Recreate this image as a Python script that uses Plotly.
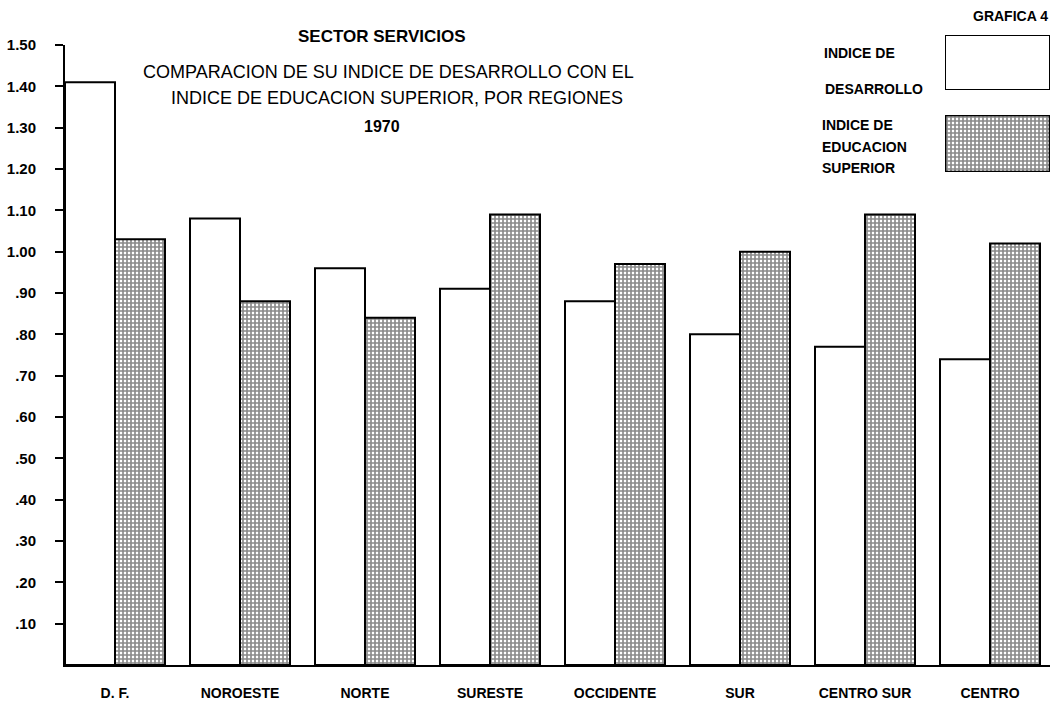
import plotly.graph_objects as go

regiones = ["D. F.", "NOROESTE", "NORTE", "SURESTE", "OCCIDENTE", "SUR", "CENTRO SUR", "CENTRO"]
indice_desarrollo = [1.41, 1.08, 0.96, 0.91, 0.88, 0.80, 0.77, 0.74]
indice_educacion = [1.03, 0.88, 0.84, 1.09, 0.97, 1.00, 1.09, 1.02]
tick_vals = [0.1, 0.2, 0.3, 0.4, 0.5, 0.6, 0.7, 0.8, 0.9, 1.0, 1.1, 1.2, 1.3, 1.4, 1.5]
tick_text = [".10", ".20", ".30", ".40", ".50", ".60", ".70", ".80", ".90",
             "1.00", "1.10", "1.20", "1.30", "1.40", "1.50"]

FONT = "Liberation Sans, Arial, sans-serif"
pattern = dict(shape="+", size=4, solidity=0.65, fgcolor="#111111", bgcolor="white", fillmode="overlay")

fig = go.Figure()
fig.add_trace(go.Bar(x=regiones, y=indice_desarrollo, name="INDICE DE DESARROLLO",
                     marker=dict(color="white", line=dict(color="black", width=2))))
fig.add_trace(go.Bar(x=regiones, y=indice_educacion, name="INDICE DE EDUCACION SUPERIOR",
                     marker=dict(color="white", pattern=pattern, line=dict(color="black", width=2))))

# legend swatches on small inset axes
fig.add_trace(go.Bar(x=[0], y=[1], width=[1], xaxis="x2", yaxis="y2", showlegend=False,
                     marker=dict(color="white", line=dict(color="black", width=2))))
fig.add_trace(go.Bar(x=[0], y=[1], width=[1], xaxis="x3", yaxis="y3", showlegend=False,
                     marker=dict(color="white", pattern=pattern, line=dict(color="black", width=2.5))))

plot_top, plot_bot = 30, 665
H = plot_bot - plot_top
def py(p):
    return (plot_bot - p) / H

fig.update_layout(
    width=1054, height=705,
    margin=dict(l=65, r=4, t=plot_top, b=705 - plot_bot),
    paper_bgcolor="white", plot_bgcolor="white",
    showlegend=False,
    barmode="group", bargap=0.2, bargroupgap=0,
    font=dict(family=FONT, color="black"),
    xaxis=dict(range=[-0.4, 7.48], showgrid=False, showline=True, linecolor="black", linewidth=2,
               ticks="", tickfont=dict(size=14, family=FONT, weight="bold"), ticklabelstandoff=14,
               zeroline=False),
    yaxis=dict(domain=[0, py(45)], range=[0, 1.5], tickvals=tick_vals, ticktext=tick_text,
               showgrid=False, showline=True, linecolor="black", linewidth=2,
               ticks="outside", ticklen=8, tickwidth=2, tickcolor="black",
               tickfont=dict(size=15, family=FONT, weight="bold"), ticklabelstandoff=16,
               zeroline=False),
    xaxis2=dict(domain=[(945 - 65) / 985, 1.0], range=[-0.5, 0.5], visible=False, anchor="y2"),
    yaxis2=dict(domain=[py(90), py(35)], range=[0, 1], visible=False, anchor="x2"),
    xaxis3=dict(domain=[(945 - 65) / 985, 1.0], range=[-0.5, 0.5], visible=False, anchor="y3"),
    yaxis3=dict(domain=[py(172), py(115)], range=[0, 1], visible=False, anchor="x3"),
)

def ptxt(text, px, pyy, size, bold=False, anchor="center"):
    fig.add_annotation(text=text, x=(px - 65) / 985, y=(plot_bot - pyy) / H, xref="paper", yref="paper",
                       xanchor=anchor, yanchor="middle", showarrow=False,
                       font=dict(size=size, family=FONT, color="black", weight="bold" if bold else "normal"))

ptxt("SECTOR SERVICIOS", 382, 37, 17, bold=True)
ptxt("COMPARACION DE SU INDICE DE DESARROLLO CON EL", 388, 72, 18)
ptxt("INDICE DE EDUCACION SUPERIOR, POR REGIONES", 397, 98, 18)
ptxt("1970", 382, 126, 16, bold=True)
ptxt("GRAFICA 4", 1050, 16, 14, bold=True, anchor="right")
ptxt("INDICE DE", 822, 53, 14, bold=True, anchor="left")
ptxt("DESARROLLO", 823, 89, 14, bold=True, anchor="left")
ptxt("INDICE DE", 820, 125, 14, bold=True, anchor="left")
ptxt("EDUCACION", 820, 147, 14, bold=True, anchor="left")
ptxt("SUPERIOR", 820, 168, 14, bold=True, anchor="left")

fig.write_html("out.html", config={"displayModeBar": False},
               post_script="document.body.style.margin='0';")
